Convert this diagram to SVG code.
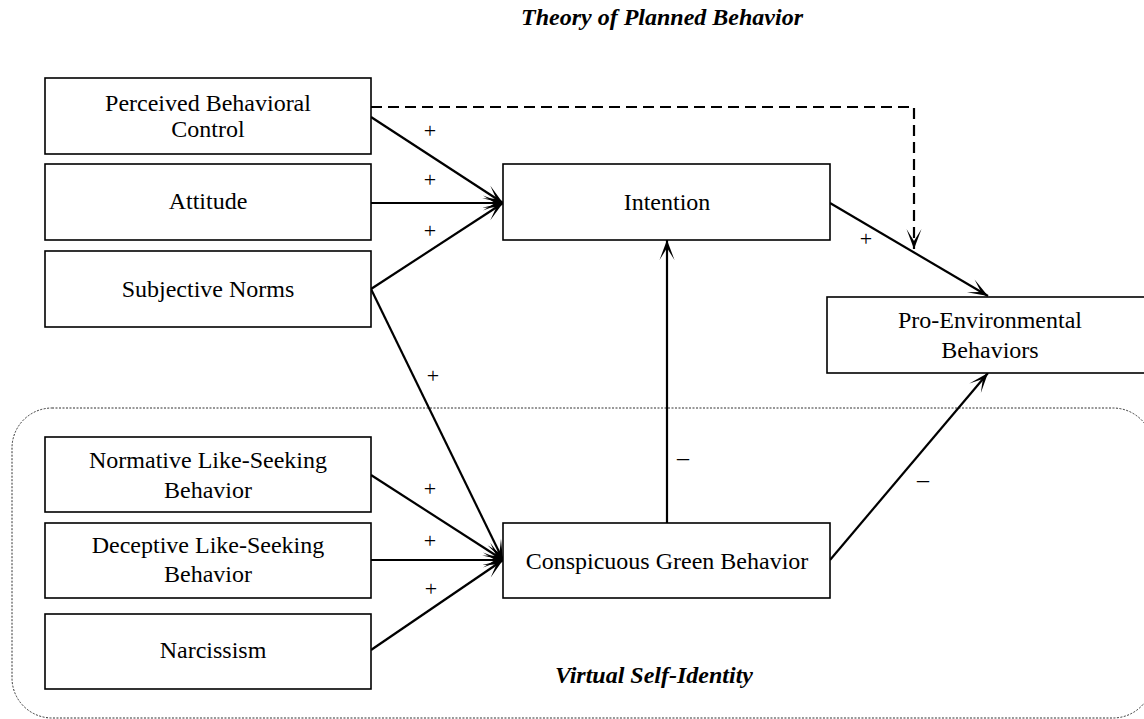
<svg xmlns="http://www.w3.org/2000/svg" width="1144" height="719" viewBox="0 0 1144 719">
  <style>
    .box { fill: #ffffff; stroke: #000000; stroke-width: 1.6; }
    .lbl { font-family: "Liberation Serif", "Times New Roman", serif; font-size: 24px; fill: #000000; text-anchor: middle; }
    .ttl { font-family: "Liberation Serif", "Times New Roman", serif; font-size: 24px; font-weight: bold; font-style: italic; fill: #000000; text-anchor: middle; }
    .sgn { font-family: "Liberation Serif", "Times New Roman", serif; font-size: 22px; fill: #000000; text-anchor: middle; }
    .neg { font-family: "Liberation Serif", "Times New Roman", serif; font-size: 24px; fill: #000000; text-anchor: middle; }
    .edge { fill: none; stroke: #000000; stroke-width: 2.2; marker-end: url(#ah); }
    .dash { stroke-dasharray: 11 6; }
    .group { fill: none; stroke: #333333; stroke-width: 1; stroke-dasharray: 2 1.5; }
  </style>
  <defs>
    <marker id="ah" viewBox="-22 -10 24 20" markerWidth="24" markerHeight="20" refX="0" refY="0" orient="auto" markerUnits="userSpaceOnUse">
      <path d="M0,0 L-20,-7.5 L-8,0 L-20,7.5 Z" fill="#000000"/>
    </marker>
  </defs>

  <rect width="1144" height="719" fill="#ffffff"/>

  <!-- Group frames and titles -->
  <g id="virtual-self-identity-frame">
    <rect class="group" x="12" y="408" width="1141" height="310" rx="40" ry="40"/>
    <text class="ttl" x="654" y="683">Virtual Self-Identity</text>
  </g>
  <g id="tpb-title">
    <text class="ttl" x="662" y="25">Theory of Planned Behavior</text>
  </g>

  <!-- Connectors -->
  <g id="connectors">
    <path class="edge dash" d="M371,107 L914,107 L914,249"/>
    <path class="edge" d="M371,117 L503,203"/>
    <path class="edge" d="M371,203 L503,203"/>
    <path class="edge" d="M371,289 L503,203"/>
    <path class="edge" d="M371,289 L503,560"/>
    <path class="edge" d="M371,475 L503,560"/>
    <path class="edge" d="M371,560 L503,560"/>
    <path class="edge" d="M371,650 L503,560"/>
    <path class="edge" d="M667,523 L667,240"/>
    <path class="edge" d="M830,203 L988,296"/>
    <path class="edge" d="M830,560 L988,373"/>
    <text class="sgn" x="430" y="138">+</text>
    <text class="sgn" x="430" y="187">+</text>
    <text class="sgn" x="430" y="238">+</text>
    <text class="sgn" x="433" y="383">+</text>
    <text class="sgn" x="430" y="496">+</text>
    <text class="sgn" x="430" y="548">+</text>
    <text class="sgn" x="431" y="596">+</text>
    <text class="sgn" x="866" y="246">+</text>
    <text class="neg" x="683" y="465">–</text>
    <text class="neg" x="923" y="487">–</text>
  </g>

  <!-- Nodes -->
  <g id="node-pbc">
    <rect class="box" x="45" y="78" width="326" height="76"/>
    <text class="lbl" x="208" y="111">Perceived Behavioral</text>
    <text class="lbl" x="208" y="137">Control</text>
  </g>
  <g id="node-attitude">
    <rect class="box" x="45" y="164" width="326" height="76"/>
    <text class="lbl" x="208" y="209">Attitude</text>
  </g>
  <g id="node-subjective-norms">
    <rect class="box" x="45" y="251" width="326" height="76"/>
    <text class="lbl" x="208" y="297">Subjective Norms</text>
  </g>
  <g id="node-intention">
    <rect class="box" x="503" y="164" width="327" height="76"/>
    <text class="lbl" x="667" y="210">Intention</text>
  </g>
  <g id="node-peb">
    <rect class="box" x="827" y="297" width="326" height="76"/>
    <text class="lbl" x="990" y="328">Pro-Environmental</text>
    <text class="lbl" x="990" y="358">Behaviors</text>
  </g>
  <g id="node-nls">
    <rect class="box" x="45" y="437" width="326" height="75"/>
    <text class="lbl" x="208" y="468">Normative Like-Seeking</text>
    <text class="lbl" x="208" y="498">Behavior</text>
  </g>
  <g id="node-dls">
    <rect class="box" x="45" y="523" width="326" height="75"/>
    <text class="lbl" x="208" y="553">Deceptive Like-Seeking</text>
    <text class="lbl" x="208" y="582">Behavior</text>
  </g>
  <g id="node-narcissism">
    <rect class="box" x="45" y="614" width="326" height="75"/>
    <text class="lbl" x="213" y="658">Narcissism</text>
  </g>
  <g id="node-cgb">
    <rect class="box" x="503" y="523" width="327" height="75"/>
    <text class="lbl" x="667" y="569">Conspicuous Green Behavior</text>
  </g>
</svg>
